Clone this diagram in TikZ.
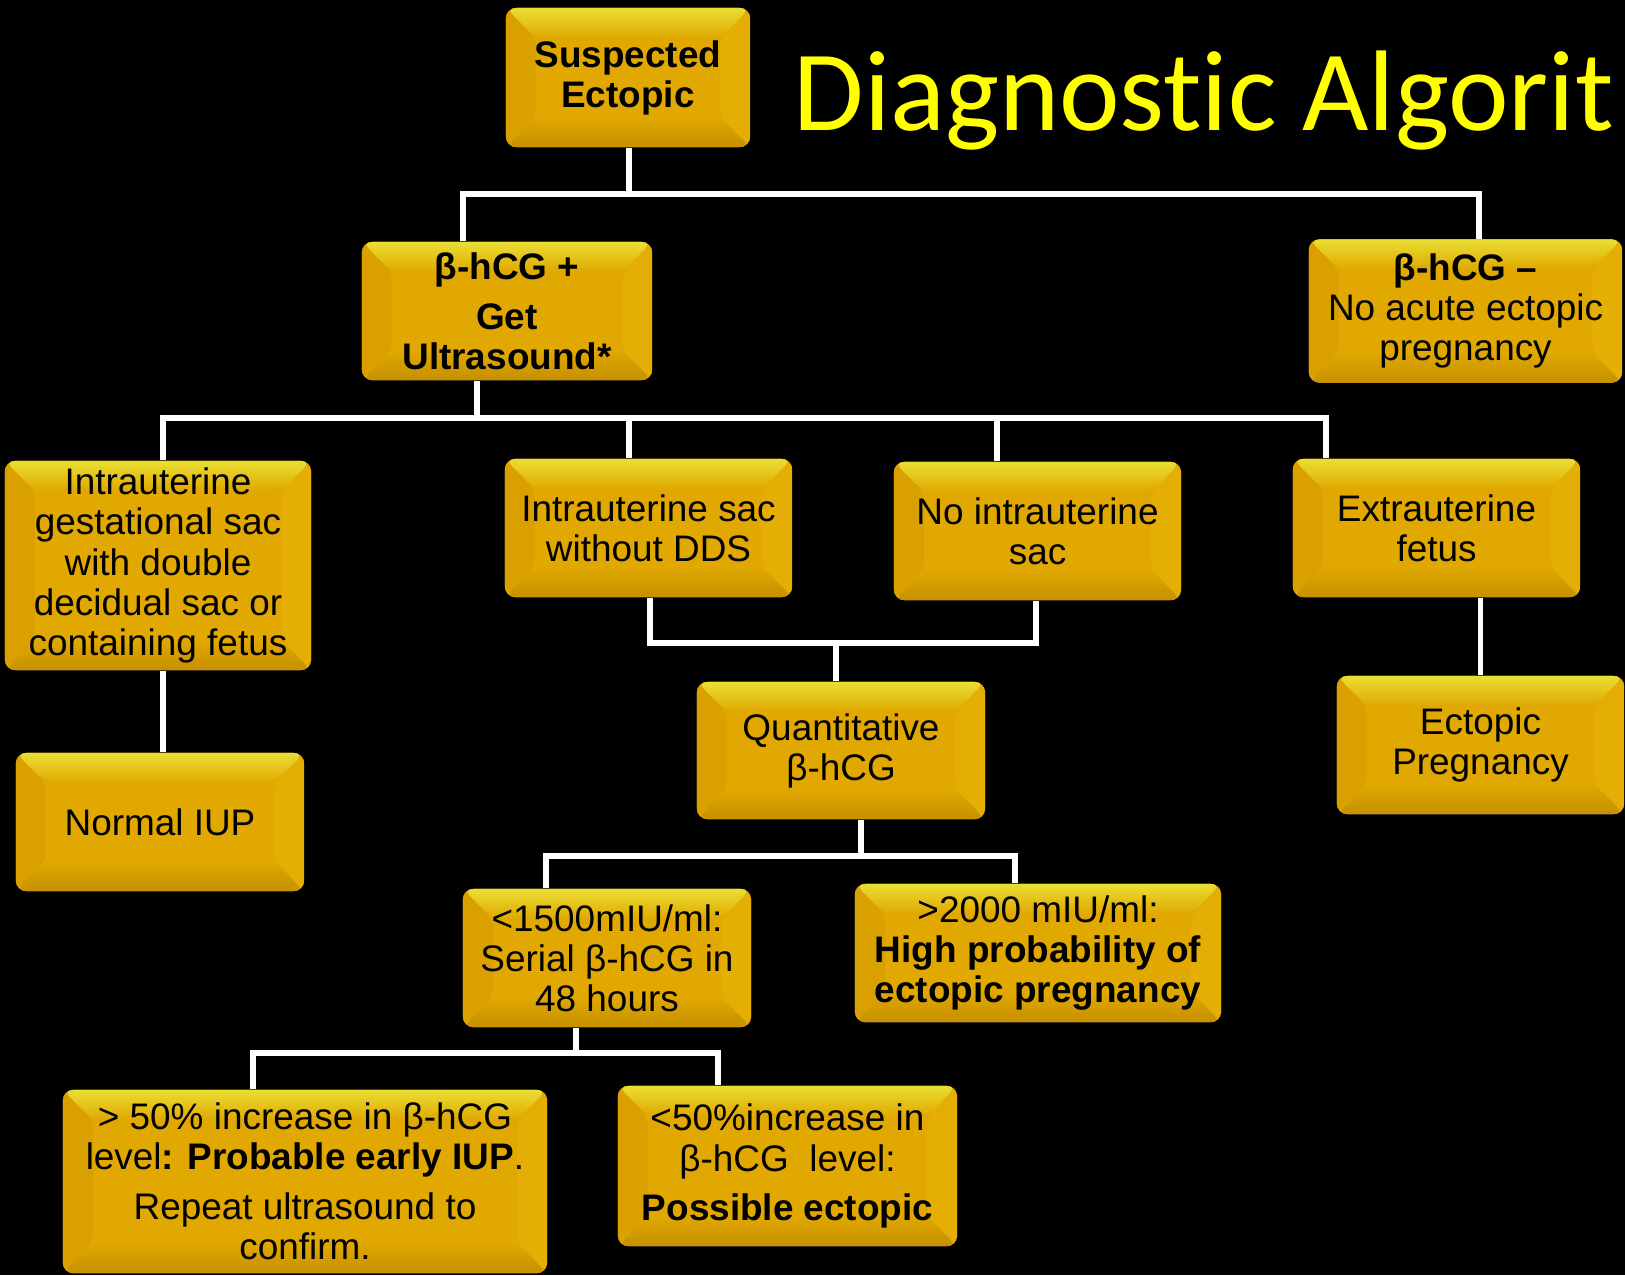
\documentclass[tikz,border=0pt]{standalone}
\usepackage{fontspec}
\setmainfont{Liberation Sans}
\newfontfamily\titlefont[Ligatures=NoCommon]{Carlito}
\definecolor{goldface}{RGB}{224,168,0}
\definecolor{goldhi}{RGB}{234,222,52}
\definecolor{goldleft}{RGB}{218,160,0}
\definecolor{goldright}{RGB}{228,174,4}
\definecolor{goldlow}{RGB}{198,144,0}
\definecolor{titleyellow}{RGB}{255,255,0}
\tikzset{bevel/.style={path picture={
  \coordinate (bvnw) at (path picture bounding box.north west);
  \coordinate (bvne) at (path picture bounding box.north east);
  \coordinate (bvsw) at (path picture bounding box.south west);
  \coordinate (bvse) at (path picture bounding box.south east);
  \fill[goldleft] (bvnw) -- ([shift={(0.3cm,-0.3cm)}]bvnw) -- ([shift={(0.3cm,0.3cm)}]bvsw) -- (bvsw) -- cycle;
  \fill[goldright] (bvne) -- ([shift={(-0.3cm,-0.3cm)}]bvne) -- ([shift={(-0.3cm,0.3cm)}]bvse) -- (bvse) -- cycle;
  \fill[top color=goldhi, bottom color=goldface] (bvnw) -- (bvne) -- ([shift={(-0.3cm,-0.3cm)}]bvne) -- ([shift={(0.3cm,-0.3cm)}]bvnw) -- cycle;
  \fill[top color=goldface, bottom color=goldlow] (bvsw) -- ([shift={(0.3cm,0.3cm)}]bvsw) -- ([shift={(-0.3cm,0.3cm)}]bvse) -- (bvse) -- cycle;
}}}
\begin{document}
\begin{tikzpicture}[x = 0.01cm, y = -0.01cm,
    gold/.style = {rounded corners = 0.1cm, fill = goldface, inner sep = 0pt, align = center,
                   font = \fontsize{10.5}{11.4}\selectfont, bevel},
    link/.style = {draw = white, line width = 1.6pt}]
    \fill[black] (0,0) rectangle (1625,1275);
    \useasboundingbox (0,0) rectangle (1625,1275);

    \node [anchor = base west, inner sep = 0pt, text = titleyellow,
           font = \titlefont\fontsize{32.6}{33}\selectfont] (title) at (793,130) {Diagnostic Algorit};

    \node [gold, minimum width = 2.44cm, minimum height = 1.39cm, font = \fontsize{10.5}{11.4}\selectfont\bfseries] (susp) at (628,77.5) {Suspected\\Ectopic};
    \node [gold, minimum width = 2.90cm, minimum height = 1.38cm, font = \fontsize{10.5}{11.4}\selectfont\bfseries] (bpos) at (507,311) {β-hCG +\\[0.1cm]Get\\Ultrasound*};
    \node [gold, minimum width = 3.13cm, minimum height = 1.43cm] (bneg) at (1465.5,311) {\textbf{β-hCG –}\\No acute ectopic\\pregnancy};

    \node [gold, minimum width = 3.06cm, minimum height = 2.09cm] (iugs) at (158,565.5) {Intrauterine\\gestational sac\\with double\\decidual sac or\\containing fetus};
    \node [gold, minimum width = 2.87cm, minimum height = 1.38cm] (iuno) at (648.5,528) {Intrauterine sac\\without DDS};
    \node [gold, minimum width = 2.87cm, minimum height = 1.38cm] (noiu) at (1037.5,531) {No intrauterine\\sac};
    \node [gold, minimum width = 2.87cm, minimum height = 1.38cm] (extra) at (1436.5,528) {Extrauterine\\fetus};

    \node [gold, minimum width = 2.88cm, minimum height = 1.38cm] (iup) at (160,822) {Normal IUP};
    \node [gold, minimum width = 2.88cm, minimum height = 1.37cm] (quant) at (841,750.5) {Quantitative\\β-hCG};
    \node [gold, minimum width = 2.87cm, minimum height = 1.38cm] (ectp) at (1480.5,745) {Ectopic\\Pregnancy};

    \node [gold, minimum width = 2.88cm, minimum height = 1.38cm] (lt1500) at (607,958) {<1500mIU/ml:\\Serial β-hCG in\\48 hours};
    \node [gold, minimum width = 3.66cm, minimum height = 1.38cm] (gt2000) at (1038,953) {>2000 mIU/ml:\\\textbf{High probability of}\\\textbf{ectopic pregnancy}};

    \node [gold, minimum width = 4.84cm, minimum height = 1.83cm] (inc50) at (305,1181.5) {> 50\% increase in β-hCG\\level\textbf{: Probable early IUP}.\\[0.1cm]Repeat ultrasound to\\confirm.};
    \node [gold, minimum width = 3.39cm, minimum height = 1.60cm] (dec50) at (787.5,1166) {<50\%increase in\\β-hCG\ \ level:\\[0.09cm]\textbf{Possible ectopic}};

    % junctions
    \coordinate (j1) at (629,194);
    \coordinate (j1l) at (463,194);
    \coordinate (j1r) at (1479,194);
    \coordinate (j2) at (477,418);
    \coordinate (j2l) at (163,418);
    \coordinate (j2b) at (629,418);
    \coordinate (j2c) at (997,418);
    \coordinate (j2r) at (1326,418);
    \coordinate (j3) at (836,643);
    \coordinate (j3l) at (650,643);
    \coordinate (j3r) at (1036,643);
    \coordinate (j4) at (861,856);
    \coordinate (j4l) at (546,856);
    \coordinate (j4r) at (1015,856);
    \coordinate (j5) at (576,1053);
    \coordinate (j5l) at (253,1053);
    \coordinate (j5r) at (718,1053);

    \draw[link] (susp.south -| j1) -- (j1);
    \draw[link] (j1l |- bpos.north) -- (j1l) -- (j1r) -- (j1r |- bneg.north);

    \draw[link] (bpos.south -| j2) -- (j2);
    \draw[link] (j2l |- iugs.north) -- (j2l) -- (j2r) -- (j2r |- extra.north);
    \draw[link] (j2b) -- (j2b |- iuno.north);
    \draw[link] (j2c) -- (j2c |- noiu.north);

    \draw[link] (j3l |- iuno.south) -- (j3l) -- (j3r) -- (j3r |- noiu.south);
    \draw[link] (j3) -- (j3 |- quant.north);

    \draw[link] (iugs.south -| j2l) -- (iup.north -| j2l);
    \draw[link] (extra.south -| ectp) -- (ectp.north);

    \draw[link] (quant.south -| j4) -- (j4);
    \draw[link] (j4l |- lt1500.north) -- (j4l) -- (j4r) -- (j4r |- gt2000.north);

    \draw[link] (lt1500.south -| j5) -- (j5);
    \draw[link] (j5l |- inc50.north) -- (j5l) -- (j5r) -- (j5r |- dec50.north);
\end{tikzpicture}
\end{document}
